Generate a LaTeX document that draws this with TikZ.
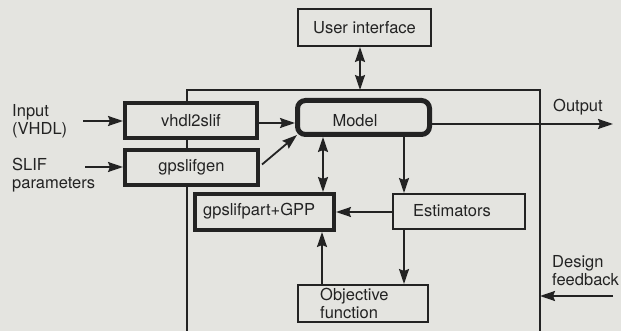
\documentclass[tikz,border=0pt]{standalone}
\usepackage{fontspec}
\setmainfont{TeX Gyre Heros}
\usetikzlibrary{arrows.meta,calc}
\definecolor{paper}{RGB}{228,228,224}
\definecolor{ink}{RGB}{35,35,35}
\begin{document}
\begin{tikzpicture}[x=1pt,y=-1pt,
  every node/.style={font=\fontsize{16.5}{18}\selectfont, text=ink},
  thinbox/.style={draw=ink, line width=2pt, fill=paper, rectangle, inner sep=0pt},
  thickbox/.style={draw=ink, line width=4pt, fill=paper, rectangle, inner sep=0pt},
  modelbox/.style={draw=ink, line width=5pt, fill=paper, rectangle, rounded corners=8pt, inner sep=0pt},
  conn/.style={draw=ink, line width=1.8pt},
  arr/.style={conn, -{Stealth[length=15pt,width=10pt,inset=2pt]}},
  darr/.style={conn, {Stealth[length=15pt,width=10pt,inset=2pt]}-{Stealth[length=15pt,width=10pt,inset=2pt]}},
  lbl/.style={align=left, inner sep=0pt}
]
\fill[paper] (0,0) rectangle (621,331);
\useasboundingbox (0,0) rectangle (621,331);

% enclosing frame
\draw[conn] (187,345) -- (187,90) -- (540,90) -- (540,345);

% boxes
\node[thinbox, minimum width=133pt, minimum height=37pt] (ui) at (364.5,27.5) {User interface};
\node[thickbox, minimum width=132pt, minimum height=35pt] (vhdl) at (191,120.5) {vhdl2slif};
\node[thickbox, minimum width=133pt, minimum height=35pt] (gen) at (191.5,167.5) {gpslifgen};
\node[modelbox, minimum width=132pt, minimum height=34pt] (model) at (363.5,117.5) {};
\node (modeltxt) at (355,121) {Model};
\node[thickbox, minimum width=139pt, minimum height=36pt] (part) at (264.5,212) {};
\node[anchor=west, inner sep=0pt] (parttxt) at (203,211) {gpslifpart+GPP};
\node[thinbox, minimum width=132pt, minimum height=35pt] (est) at (459,211.5) {};
\node (esttxt) at (452,211) {Estimators};
\node[thinbox, minimum width=130pt, minimum height=37pt] (obj) at (363,303.5) {};
\node[lbl, anchor=west] (objtxt) at (320,303.5) {Objective\\function};

% labels
\node[lbl, anchor=west] (inlbl) at (12,121) {Input\\(VHDL)};
\node[lbl, anchor=west] (slifl) at (12,175) {SLIF\\parameters};
\node[lbl, anchor=west] (outl) at (553,107) {Output};
\node[lbl, anchor=west] (dfl) at (552,271) {Design\\feedback};

% free-end coordinates
\coordinate (inS) at (83,121);
\coordinate (slifS) at (85,167);
\coordinate (ftop) at (360,90);
\coordinate (outE) at (613,124);
\coordinate (dfS) at (613,296);
\coordinate (dfE) at (540,296);

% connectors
\draw[arr] (inS) -- (inS -| vhdl.west);
\draw[arr] (slifS) -- (slifS -| gen.west);
\draw[arr] (vhdl.east |- 0,123) -- (model.west |- 0,123);
\draw[arr] ($(gen.east)+(2,-3)$) -- ($(model.south west)+(2,-2)$);
\draw[darr] (ui.south -| ftop) -- (ftop);
\draw[arr] (model.east |- outE) -- (outE);
\draw[darr] (model.south -| 323,0) -- (part.north -| 323,0);
\draw[arr] (model.south -| 404,0) -- (est.north -| 404,0);
\draw[arr] (est.west |- 0,212) -- (part.east |- 0,212);
\draw[arr] (est.south -| 404,0) -- (obj.north -| 404,0);
\draw[arr] (obj.north -| 322,0) -- (part.south -| 322,0);
\draw[arr] (dfS) -- (dfE);
\end{tikzpicture}
\end{document}
